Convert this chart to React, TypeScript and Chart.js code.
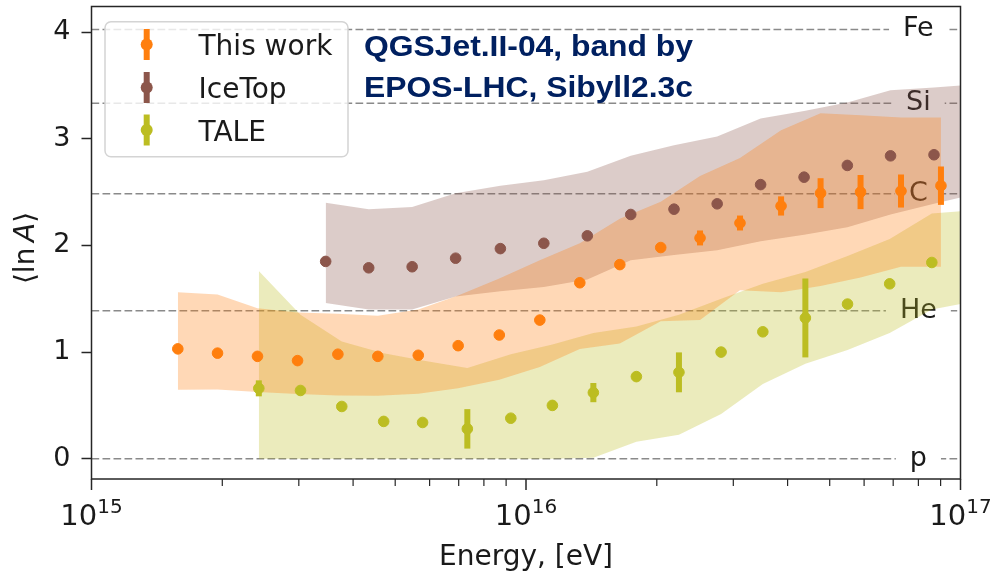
import React, { useEffect, useRef } from 'react';
import { Chart, registerables } from 'chart.js';

Chart.register(...registerables);

// ---------- data ----------
const thisWorkEnergy = [1.58e15, 1.95e15, 2.41e15, 2.98e15, 3.69e15, 4.56e15, 5.65e15, 6.98e15, 8.68e15, 1.076e16, 1.33e16, 1.644e16, 2.042e16, 2.515e16, 3.108e16, 3.864e16, 4.764e16, 5.888e16, 7.295e16, 9.016e16];
const thisWorkLnA = [1.03, 0.99, 0.96, 0.92, 0.98, 0.96, 0.97, 1.06, 1.16, 1.30, 1.65, 1.82, 1.98, 2.07, 2.21, 2.37, 2.49, 2.50, 2.51, 2.56];
const thisWorkErr = [0.03, 0.03, 0.03, 0.03, 0.03, 0.03, 0.03, 0.03, 0.03, 0.03, 0.03, 0.03, 0.03, 0.07, 0.07, 0.09, 0.14, 0.16, 0.155, 0.18];
const thisWorkBandHigh = [1.56, 1.54, 1.41, 1.37, 1.36, 1.34, 1.40, 1.53, 1.69, 1.86, 2.02, 2.25, 2.41, 2.65, 2.82, 3.08, 3.24, 3.22, 3.20, 3.20];
const thisWorkBandLow = [0.646, 0.65, 0.625, 0.606, 0.593, 0.59, 0.61, 0.66, 0.74, 0.86, 1.03, 1.08, 1.29, 1.30, 1.58, 1.56, 1.62, 1.70, 1.80, 1.80];

const iceTopEnergy = [3.459e15, 4.345e15, 5.47e15, 6.887e15, 8.73e15, 1.099e16, 1.384e16, 1.742e16, 2.191e16, 2.754e16, 3.467e16, 4.365e16, 5.49e16, 6.902e16, 8.69e16];
const iceTopLnA = [1.85, 1.79, 1.80, 1.88, 1.97, 2.02, 2.09, 2.29, 2.34, 2.39, 2.57, 2.64, 2.75, 2.84, 2.85];
const iceTopErr = [0.03, 0.03, 0.03, 0.03, 0.03, 0.03, 0.03, 0.03, 0.03, 0.03, 0.03, 0.03, 0.03, 0.03, 0.03];
const iceTopBandEnergy = [3.459e15, 4.345e15, 5.47e15, 6.887e15, 8.73e15, 1.099e16, 1.384e16, 1.742e16, 2.191e16, 2.754e16, 3.467e16, 4.365e16, 5.49e16, 6.902e16, 8.69e16, 1e17];
const iceTopBandHigh = [2.40, 2.34, 2.36, 2.49, 2.56, 2.61, 2.69, 2.84, 2.94, 3.02, 3.19, 3.26, 3.34, 3.455, 3.48, 3.50];
const iceTopBandLow = [1.46, 1.40, 1.40, 1.52, 1.57, 1.61, 1.68, 1.86, 1.91, 1.955, 2.04, 2.10, 2.17, 2.29, 2.39, 2.45];

const taleEnergy = [2.427e15, 3.027e15, 3.767e15, 4.704e15, 5.781e15, 7.328e15, 9.226e15, 1.15e16, 1.429e16, 1.795e16, 2.249e16, 2.812e16, 3.508e16, 4.395e16, 5.495e16, 6.871e16, 8.59e16];
const taleLnA = [0.66, 0.64, 0.49, 0.35, 0.34, 0.28, 0.38, 0.50, 0.62, 0.77, 0.81, 1.00, 1.19, 1.32, 1.45, 1.64, 1.84];
const taleErr = [0.075, 0.02, 0.02, 0.02, 0.02, 0.185, 0.02, 0.02, 0.09, 0.02, 0.187, 0.02, 0.02, 0.37, 0.02, 0.02, 0.02];
const taleBandEnergy = [2.427e15, 3.027e15, 3.767e15, 4.704e15, 5.781e15, 7.328e15, 9.226e15, 1.15e16, 1.429e16, 1.795e16, 2.249e16, 2.812e16, 3.508e16, 4.395e16, 5.495e16, 6.871e16, 8.59e16, 1e17];
const taleBandHigh = [1.76, 1.35, 1.10, 0.99, 0.92, 0.85, 0.98, 1.07, 1.18, 1.24, 1.35, 1.50, 1.64, 1.75, 1.90, 2.06, 2.30, 2.32];
const taleBandLow = [0, 0, 0, 0, 0, 0, 0, 0, 0.01, 0.16, 0.225, 0.42, 0.70, 0.89, 1.02, 1.18, 1.40, 1.45];

const refLabels = ['p', 'He', 'C', 'Si', 'Fe'];
const refMassNumbers = [1, 4, 12, 28, 56];
const yTicks = [0, 1, 2, 3, 4];
const xDecades = [15, 16, 17];
const seriesNames = ['This work', 'IceTop', 'TALE'];
const titleLines = ['QGSJet.II-04, band by', 'EPOS-LHC, Sibyll2.3c'];

const ORANGE = '#ff7f0e';
const BROWN = '#8c564b';
const OLIVE = '#bcbd22';
const FONT = '"DejaVu Sans", "Noto Sans", sans-serif';
const TEXT = '#1a1a1a';

const pts = (xs: number[], ys: number[]) => xs.map((x, i) => ({ x, y: ys[i] }));

const pointSet = (label: string, xs: number[], ys: number[], color: string) => ({
  type: 'scatter' as const,
  label,
  data: pts(xs, ys),
  backgroundColor: color,
  borderColor: color,
  borderWidth: 1,
  pointRadius: 5.3,
  order: 0,
});

const bandSet = (label: string, xs: number[], ys: number[], fill: any, rgba: string) => ({
  type: 'scatter' as const,
  label,
  data: pts(xs, ys),
  showLine: true,
  fill,
  backgroundColor: rgba,
  borderColor: 'rgba(0,0,0,0)',
  borderWidth: 0,
  pointRadius: 0,
  tension: 0,
  order: 1,
});

const errorSets = [
  { idx: 0, err: thisWorkErr, color: ORANGE },
  { idx: 1, err: iceTopErr, color: BROWN },
  { idx: 2, err: taleErr, color: OLIVE },
];

const customPlugin = {
  id: 'customDecor',
  beforeDatasetsDraw(chart: any) {
    const { ctx, chartArea } = chart;
    const xs = chart.scales.x;
    const ys = chart.scales.y;
    ctx.save();
    ctx.font = `27px ${FONT}`;
    refLabels.forEach((lab, i) => {
      const y = ys.getPixelForValue(Math.log(refMassNumbers[i]));
      ctx.strokeStyle = '#8a8a8a';
      ctx.lineWidth = 1.5;
      ctx.setLineDash([7.7, 3.3]);
      ctx.beginPath();
      ctx.moveTo(chartArea.left, y);
      ctx.lineTo(chartArea.right, y);
      ctx.stroke();
      ctx.setLineDash([]);
      const xc = xs.getPixelForValue(8e16);
      const w = ctx.measureText(lab).width;
      ctx.fillStyle = '#ffffff';
      ctx.fillRect(xc - w / 2 - 14, y - 13, w + 28, 26);
      ctx.fillStyle = TEXT;
      ctx.textAlign = 'center';
      ctx.textBaseline = 'middle';
      ctx.fillText(lab, xc, y);
    });
    ctx.restore();
  },
  afterDatasetsDraw(chart: any) {
    const { ctx, chartArea } = chart;
    const ys = chart.scales.y;
    ctx.save();
    ctx.lineCap = 'butt';
    errorSets.forEach(({ idx, err, color }) => {
      const meta = chart.getDatasetMeta(idx);
      const data = chart.data.datasets[idx].data as any[];
      meta.data.forEach((el: any, j: number) => {
        const v = data[j].y;
        ctx.strokeStyle = color;
        ctx.lineWidth = 6;
        ctx.beginPath();
        ctx.moveTo(el.x, ys.getPixelForValue(v + err[j]));
        ctx.lineTo(el.x, ys.getPixelForValue(v - err[j]));
        ctx.stroke();
      });
    });
    // frame
    ctx.strokeStyle = '#262626';
    ctx.lineWidth = 1.5;
    ctx.strokeRect(chartArea.left, chartArea.top, chartArea.right - chartArea.left, chartArea.bottom - chartArea.top);
    ctx.restore();
  },
  afterDraw(chart: any) {
    const { ctx, chartArea } = chart;
    const xs = chart.scales.x;
    ctx.save();
    // x ticks
    ctx.strokeStyle = '#262626';
    xDecades.forEach((d, di) => {
      const mults = di < xDecades.length - 1 ? [1, 2, 3, 4, 5, 6, 7, 8, 9] : [1];
      mults.forEach((m) => {
        const px = xs.getPixelForValue(m * Math.pow(10, d));
        const major = m === 1;
        ctx.lineWidth = major ? 1.5 : 1.2;
        ctx.beginPath();
        ctx.moveTo(px, chartArea.bottom);
        ctx.lineTo(px, chartArea.bottom + (major ? 11 : 7));
        ctx.stroke();
      });
      // label 10^d
      const px = xs.getPixelForValue(Math.pow(10, d));
      ctx.fillStyle = TEXT;
      ctx.textBaseline = 'alphabetic';
      ctx.textAlign = 'left';
      ctx.font = `29px ${FONT}`;
      const wb = ctx.measureText('10').width;
      ctx.font = `20px ${FONT}`;
      const ws = ctx.measureText(String(d)).width;
      const x0 = px - (wb + ws) / 2;
      ctx.font = `29px ${FONT}`;
      ctx.fillText('10', x0, 524.5);
      ctx.font = `20px ${FONT}`;
      ctx.fillText(String(d), x0 + wb, 512.5);
    });
    // x title
    ctx.font = `28px ${FONT}`;
    ctx.textAlign = 'center';
    ctx.fillText('Energy, [eV]', (chartArea.left + chartArea.right) / 2, 565);
    // y title
    ctx.save();
    ctx.translate(33.5, 248);
    ctx.rotate(-Math.PI / 2);
    const parts: [string, string][] = [['\u27E8', 'normal'], ['ln', 'normal'], ['\u2009', 'normal'], ['A', 'italic'], ['\u27E9', 'normal']];
    let total = 0;
    const widths = parts.map(([t, s]) => {
      ctx.font = `${s} 28px ${FONT}`;
      const w = ctx.measureText(t).width;
      total += w;
      return w;
    });
    let cx = -total / 2;
    ctx.textAlign = 'left';
    parts.forEach(([t, s], i) => {
      ctx.font = `${s} 28px ${FONT}`;
      ctx.fillText(t, cx, 0);
      cx += widths[i];
    });
    ctx.restore();

    // legend
    const lx = 105, ly = 21.7, lw = 243, lh = 135;
    ctx.beginPath();
    ctx.roundRect(lx, ly, lw, lh, 6);
    ctx.fillStyle = 'rgba(255,255,255,0.8)';
    ctx.fill();
    ctx.strokeStyle = '#d4d4d4';
    ctx.lineWidth = 1.5;
    ctx.stroke();
    const colors = [ORANGE, BROWN, OLIVE];
    const rowY = [44.5, 87.5, 130];
    seriesNames.forEach((name, i) => {
      const my = rowY[i];
      ctx.strokeStyle = colors[i];
      ctx.lineWidth = 6;
      ctx.beginPath();
      ctx.moveTo(146.7, my - 15.5);
      ctx.lineTo(146.7, my + 15.5);
      ctx.stroke();
      ctx.fillStyle = colors[i];
      ctx.beginPath();
      ctx.arc(146.7, my, 6, 0, Math.PI * 2);
      ctx.fill();
      ctx.fillStyle = TEXT;
      ctx.font = `28px ${FONT}`;
      ctx.textAlign = 'left';
      ctx.textBaseline = 'alphabetic';
      ctx.fillText(name, 198.5, my + 10.5);
    });

    // annotation title
    ctx.fillStyle = '#002060';
    ctx.font = `bold 29px "Liberation Sans", Arial, sans-serif`;
    ctx.textAlign = 'left';
    const baselines = [55.5, 96.7];
    titleLines.forEach((t, i) => {
      const w = ctx.measureText(t).width;
      ctx.save();
      ctx.translate(364, baselines[i]);
      ctx.scale(329 / w, 1);
      ctx.fillText(t, 0, 0);
      ctx.restore();
    });
    ctx.restore();
  },
};

export default function App() {
  const ref = useRef<HTMLCanvasElement | null>(null);
  useEffect(() => {
    if (!ref.current) return;
    const chart = new Chart(ref.current, {
      type: 'scatter',
      data: {
        datasets: [
          pointSet('This work', thisWorkEnergy, thisWorkLnA, ORANGE),
          pointSet('IceTop', iceTopEnergy, iceTopLnA, BROWN),
          pointSet('TALE', taleEnergy, taleLnA, OLIVE),
          bandSet('This work band high', thisWorkEnergy, thisWorkBandHigh, '+1', 'rgba(255,127,14,0.3)'),
          bandSet('This work band low', thisWorkEnergy, thisWorkBandLow, false, 'rgba(0,0,0,0)'),
          bandSet('IceTop band high', iceTopBandEnergy, iceTopBandHigh, '+1', 'rgba(140,86,75,0.3)'),
          bandSet('IceTop band low', iceTopBandEnergy, iceTopBandLow, false, 'rgba(0,0,0,0)'),
          bandSet('TALE band high', taleBandEnergy, taleBandHigh, '+1', 'rgba(188,189,34,0.3)'),
          bandSet('TALE band low', taleBandEnergy, taleBandLow, false, 'rgba(0,0,0,0)'),
        ] as any,
      },
      options: {
        responsive: false,
        animation: false,
        devicePixelRatio: 1,
        events: [],
        layout: { padding: { left: 0, right: 29.5, top: 6.5, bottom: 100 } },
        plugins: { legend: { display: false }, tooltip: { enabled: false } },
        scales: {
          x: { type: 'logarithmic', min: 1e15, max: 1e17, display: false },
          y: {
            type: 'linear',
            min: -0.19,
            max: 4.24,
            afterFit: (s: any) => { s.width = 91.5; s.paddingTop = 0; s.paddingBottom = 0; },
            afterBuildTicks: (s: any) => { s.ticks = yTicks.map((v) => ({ value: v })); },
            ticks: {
              font: { family: 'DejaVu Sans', size: 27 },
              color: TEXT,
              padding: 11,
              callback: (v: any) => String(v),
            },
            grid: {
              display: true,
              drawOnChartArea: false,
              drawTicks: true,
              tickLength: 10,
              tickWidth: 1.5,
              tickColor: '#262626',
            },
            border: { display: false },
          },
        },
      } as any,
      plugins: [customPlugin],
    });
    return () => chart.destroy();
  }, []);
  return (
    <div style={{ position: 'fixed', left: 0, top: 0, width: 990, height: 579, background: '#fff' }}>
      <canvas ref={ref} width={990} height={579} style={{ display: 'block' }} />
    </div>
  );
}
